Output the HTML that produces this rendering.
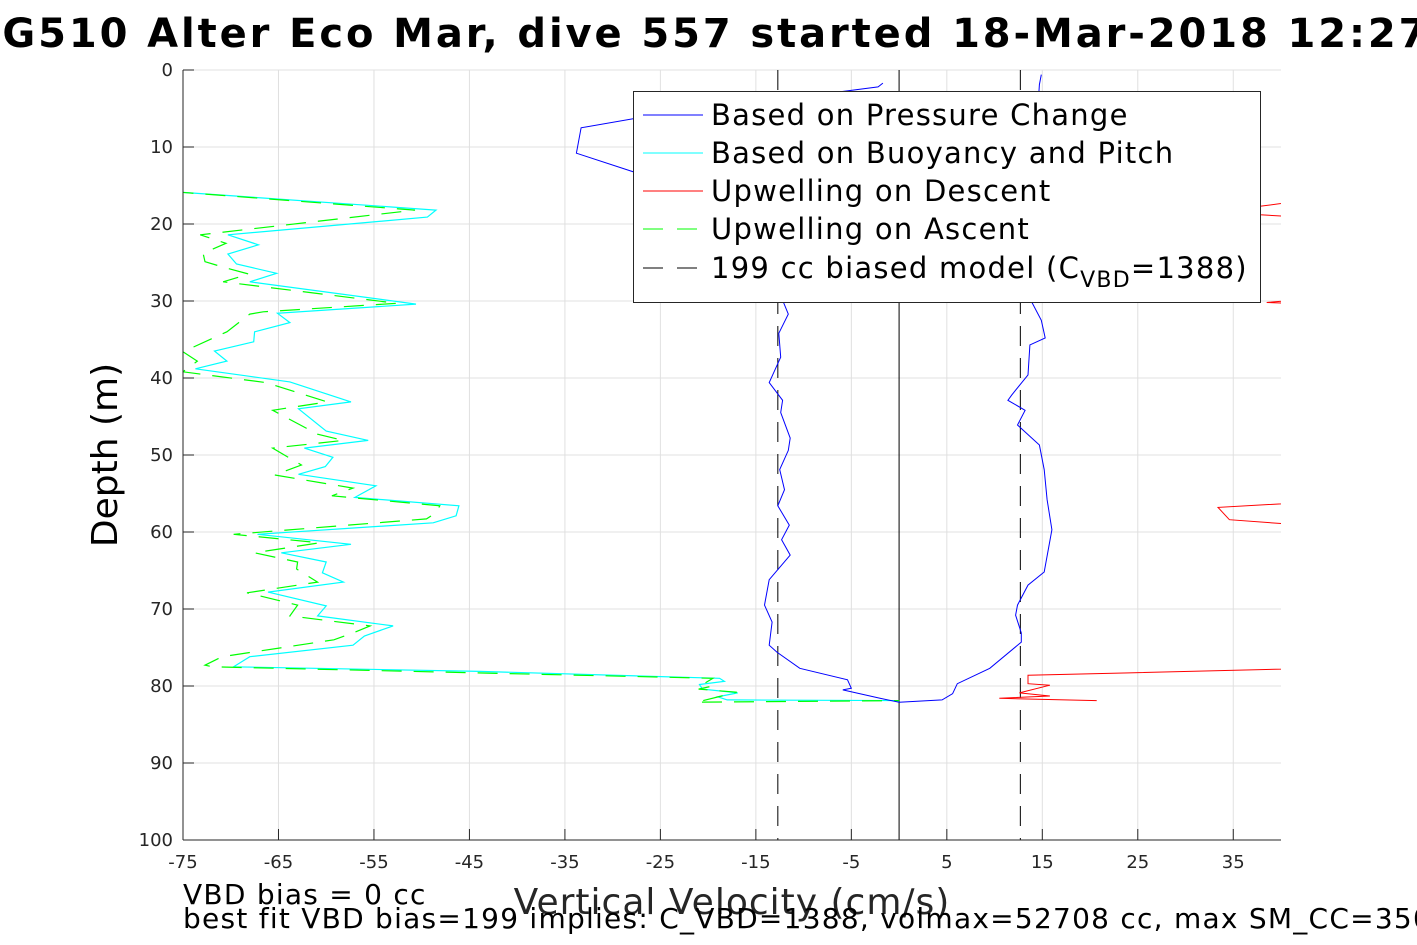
<!DOCTYPE html>
<html><head><meta charset="utf-8">
<style>
html,body{margin:0;padding:0;background:#fff;}
svg{display:block;font-family:"DejaVu Sans","Liberation Sans",sans-serif;}
</style></head>
<body>
<svg id="chart" width="1417" height="945" viewBox="0 0 1417 945">
<defs><clipPath id="plotclip"><rect x="183" y="70" width="1098" height="770"/></clipPath></defs>
<rect x="0" y="0" width="1417" height="945" fill="#fff"/>
<text x="700" y="47" text-anchor="middle" font-size="40" font-weight="bold" letter-spacing="2.9">SG510 Alter Eco Mar, dive 557 started 18-Mar-2018 12:27</text>
<g id="grid"></g>
<g id="marks" clip-path="url(#plotclip)"></g>
<line x1="183" y1="70" x2="183" y2="840" stroke="#262626" stroke-width="1"/>
<line x1="183" y1="840" x2="1281" y2="840" stroke="#262626" stroke-width="1"/>
<g id="ticks"></g>
<g>
<rect x="633.5" y="91.5" width="627" height="211" fill="#fff" stroke="#262626" stroke-width="1"/>
<g font-size="29" fill="#000" letter-spacing="1.25">
<line x1="643" y1="115" x2="703" y2="115" stroke="#0000ff"/>
<text x="711" y="125">Based on Pressure Change</text>
<line x1="643" y1="153" x2="703" y2="153" stroke="#00ffff"/>
<text x="711" y="163">Based on Buoyancy and Pitch</text>
<line x1="643" y1="191" x2="703" y2="191" stroke="#ff0000"/>
<text x="711" y="201">Upwelling on Descent</text>
<line x1="643" y1="229" x2="703" y2="229" stroke="#00ff00" stroke-dasharray="20,14"/>
<text x="711" y="239">Upwelling on Ascent</text>
<line x1="643" y1="268" x2="703" y2="268" stroke="#000" stroke-dasharray="20,14"/>
<text x="711" y="278">199 cc biased model (C<tspan font-size="22" dy="9">VBD</tspan><tspan dy="-9">=1388)</tspan></text>
</g></g>
<text transform="translate(117,455) rotate(-90)" text-anchor="middle" font-size="36">Depth (m)</text>
<text x="732" y="914" text-anchor="middle" font-size="36" letter-spacing="1" fill="#262626">Vertical Velocity (cm/s)</text>
<text x="183" y="904" font-size="28" letter-spacing="1.25">VBD bias = 0 cc</text>
<text x="183" y="928" font-size="28" letter-spacing="1.25">best fit VBD bias=199 implies: C_VBD=1388, volmax=52708 cc, max SM_CC=350</text>
</svg>
<script>
const xTicks=[-75,-65,-55,-45,-35,-25,-15,-5,5,15,25,35];
const yTicks=[0,10,20,30,40,50,60,70,80,90,100];
const pressureDepth=[1.7,2.2,6.2,7.5,10.8,13.2,22,29.9,31.7,34.2,37.3,40.6,42.9,44.5,47.8,49.4,51.9,54.5,56.6,59.1,61.0,63.0,66.2,69.5,71.7,74.7,75.6,77.7,79.2,80.3,80.5,81.6,82.1,81.8,81.0,79.7,77.7,74.3,73.1,70.8,69.5,66.9,65.2,59.7,55.8,51.9,48.7,46.1,44.2,42.9,42.2,39.6,35.7,34.8,32.5,29.9,15,1.9,0.6];
const pressureVel=[-1.7,-2.2,-27.2,-33.3,-33.8,-27.9,-15,-12.2,-11.6,-12.6,-12.4,-13.6,-12.2,-12.4,-11.4,-11.6,-12.5,-12.0,-12.7,-11.5,-12.3,-11.4,-13.6,-14.1,-13.3,-13.6,-12.8,-10.4,-5.4,-5.0,-5.9,-2.0,0,4.5,5.6,6.1,9.5,12.8,12.8,12.2,12.4,13.5,15.2,16.0,15.5,15.2,14.7,12.4,13.2,11.4,11.8,13.5,13.7,15.3,14.9,13.8,14,14.7,14.9];
const buoyDepth=[15.8,18.2,19.1,21.4,22.7,23.9,25.2,26.4,27.5,30.4,31.6,32.8,34.0,35.3,36.5,37.8,38.8,40.5,43.1,44.0,46.9,48.1,49.1,50.3,51.5,52.5,54.0,55.5,56.6,57.9,58.8,60.3,61.6,62.7,63.9,65.3,66.5,67.8,69.6,70.9,72.2,73.5,74.7,76.2,77.5,78.1,79.0,79.4,79.8,80.4,80.9,81.4,81.8,81.9];
const buoyVel=[-76,-48.5,-49.4,-70.3,-67.1,-70.3,-69.4,-65.2,-68.0,-50.6,-65.1,-63.8,-67.5,-67.6,-71.7,-70.4,-73.7,-63.8,-57.4,-62.9,-60.0,-55.6,-62.3,-59.3,-60.1,-62.9,-54.8,-57.0,-46.1,-46.4,-48.8,-67.2,-57.4,-64.7,-60.0,-60.4,-58.2,-66.1,-60.0,-60.9,-53.0,-56.0,-57.2,-68.0,-69.7,-43.9,-18.8,-18.3,-20.9,-20.6,-16.9,-19.0,-18.0,0];
const ascentDepth=[15.8,18.2,21.4,22.5,23.8,24.9,25.6,26.5,27.5,30.3,31.4,31.7,34.0,36.6,37.8,39.2,40.6,43.1,43.9,44.2,47.3,48.1,49.1,51.3,52.6,54.3,55.3,56.6,57.5,58.3,60.3,61.4,62.7,63.9,64.8,66.5,67.9,69.5,70.9,72.2,73.1,74.0,76.2,77.3,77.5,79.0,79.6,80.0,80.4,80.8,82.1,81.9];
const ascentVel=[-76,-50.7,-73.2,-70.5,-72.9,-72.7,-70.8,-68.1,-70.8,-52.6,-66.6,-68.0,-70.4,-75,-73.5,-75,-66.3,-59.9,-64.1,-65.6,-60.9,-58.2,-65.6,-62.6,-65.4,-57.2,-59.4,-48.1,-48.5,-49.5,-69.7,-60.7,-67.5,-63.0,-63.1,-60.9,-68.3,-63.0,-63.8,-55.4,-57.2,-59.2,-70.9,-72.7,-71.9,-19.5,-20.3,-19.5,-21,-17,-21.2,0];
const descentDepth=[0,16.5,17.7,18.2,18.8,19.3,25,29,30.2,30.5,40,55,56,56.8,58.4,58.9,60,77,77.8,78.3,78.6,79.7,79.9,80.9,81.3,81.6,81.9];
const descentVel=[60,45,37.8,32,37.8,45,55,50,38.5,45,60,50,45,33.4,34.6,40,50,50,40,24.1,13.5,13.5,15.8,12.6,15.8,10.5,20.7];
const modelVel=[-12.7,12.7];

const X0=-75,X1=40,Y0=0,Y1=100,PL=183,PR=1281,PT=70,PB=840;
const sx=v=>PL+(v-X0)/(X1-X0)*(PR-PL);
const sy=d=>PT+(d-Y0)/(Y1-Y0)*(PB-PT);
const NS="http://www.w3.org/2000/svg";
const grid=document.getElementById('grid'),ticks=document.getElementById('ticks'),marks=document.getElementById('marks');
function mk(tag,attrs,parent){const e=document.createElementNS(NS,tag);for(const k in attrs)e.setAttribute(k,attrs[k]);parent.appendChild(e);return e;}
xTicks.forEach(t=>{
  const g=mk('line',{x1:sx(t),x2:sx(t),y1:PT,y2:PB,stroke:'#e0e0e0','stroke-width':1},grid);
  
  
  const tk=mk('line',{x1:sx(t),x2:sx(t),y1:PB,y2:PB-11,stroke:'#262626'},ticks);
  
  
  const tx=mk('text',{x:sx(t),y:PB+28,'text-anchor':'middle','font-size':18,fill:'#262626'},ticks);
  tx.textContent=String(t);
  
  
});
yTicks.forEach(t=>{
  const g=mk('line',{x1:PL,x2:PR,y1:sy(t),y2:sy(t),stroke:'#e0e0e0','stroke-width':1},grid);
  
  
  const tk=mk('line',{x1:PL,x2:PL+11,y1:sy(t),y2:sy(t),stroke:'#262626'},ticks);
  
  
  const tx=mk('text',{x:PL-10,y:sy(t)+6,'text-anchor':'end','font-size':18,fill:'#262626'},ticks);
  tx.textContent=String(t);
  
  
});
function pts(vs,ds){return vs.map((v,i)=>sx(v).toFixed(1)+','+sy(ds[i]).toFixed(1)).join(' ');}
modelVel.forEach(v=>{
  const l=mk('line',{x1:sx(v),x2:sx(v),y1:PT,y2:PB,stroke:'#000','stroke-dasharray':'20,12','stroke-width':1},marks);
  
  
});
const zl=mk('line',{x1:sx(0),x2:sx(0),y1:PT,y2:PB,stroke:'#000','stroke-width':1},marks);


const p1=mk('polyline',{points:pts(descentVel,descentDepth),fill:'none',stroke:'#ff0000','stroke-width':1},marks);


const p2=mk('polyline',{points:pts(buoyVel,buoyDepth),fill:'none',stroke:'#00ffff','stroke-width':1.2},marks);


const p3=mk('polyline',{points:pts(ascentVel,ascentDepth),fill:'none',stroke:'#00ff00','stroke-width':1.2,'stroke-dasharray':'20,12'},marks);


const p4=mk('polyline',{points:pts(pressureVel,pressureDepth),fill:'none',stroke:'#0000ff','stroke-width':1},marks);


</script>
</body></html>
